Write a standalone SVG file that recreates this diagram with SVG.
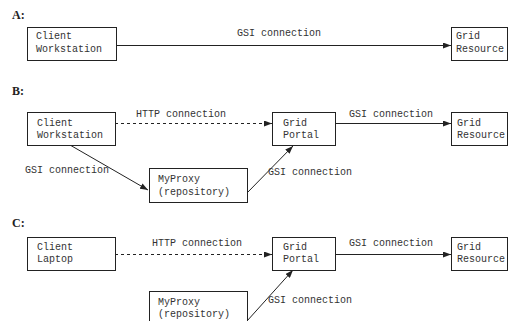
<svg xmlns="http://www.w3.org/2000/svg" width="523" height="321" viewBox="0 0 523 321">
<style>
.box{fill:#fff;stroke:#222;stroke-width:1}
.t{font-family:"Liberation Mono",monospace;font-size:10px;fill:#333}
.h{font-family:"Liberation Serif",serif;font-size:12px;font-weight:bold;fill:#222}
.ln{stroke:#222;stroke-width:1;fill:none}
.dash{stroke-dasharray:3,3}
</style>
<defs>
<marker id="ah" viewBox="0 0 8 6" refX="8" refY="3" markerWidth="8" markerHeight="6" markerUnits="userSpaceOnUse" orient="auto">
<path d="M0,0 L8,3 L0,6 Z" fill="#222"/>
</marker>
</defs>
<rect width="523" height="321" fill="#fff"/>
<text class="h" x="12" y="19">A:</text>
<text class="h" x="12" y="95">B:</text>
<text class="h" x="12" y="227">C:</text>

<g id="connectors">
<line class="ln" x1="117" y1="45.5" x2="451" y2="45.5" marker-end="url(#ah)"/>
<line class="ln dash" x1="115" y1="123.5" x2="272" y2="123.5" marker-end="url(#ah)"/>
<line class="ln" x1="335" y1="123.5" x2="451" y2="123.5" marker-end="url(#ah)"/>
<line class="ln" x1="70" y1="145" x2="148" y2="190" marker-end="url(#ah)"/>
<line class="ln" x1="247" y1="193" x2="293" y2="146" marker-end="url(#ah)"/>
<line class="ln dash" x1="115" y1="254.5" x2="272" y2="254.5" marker-end="url(#ah)"/>
<line class="ln" x1="335" y1="254.5" x2="451" y2="254.5" stroke-width="1.5" marker-end="url(#ah)"/>
<line class="ln" x1="247" y1="321" x2="293" y2="270" marker-end="url(#ah)"/>
<text class="t" x="237" y="36">GSI connection</text>
<text class="t" x="136" y="117">HTTP connection</text>
<text class="t" x="349" y="117">GSI connection</text>
<text class="t" x="25" y="173">GSI connection</text>
<text class="t" x="268" y="175">GSI connection</text>
<text class="t" x="152" y="246">HTTP connection</text>
<text class="t" x="349" y="246">GSI connection</text>
<text class="t" x="268" y="303">GSI connection</text>
</g>

<g id="a-client">
<rect class="box" x="27.5" y="27.5" width="89" height="33"/>
<text class="t" x="36" y="39">Client</text>
<text class="t" x="36" y="52">Workstation</text>
</g>
<g id="a-resource">
<rect class="box" x="451.5" y="27.5" width="56" height="33"/>
<text class="t" x="456" y="39">Grid</text>
<text class="t" x="456" y="52">Resource</text>
</g>

<g id="b-client">
<rect class="box" x="27.5" y="112.5" width="88" height="33"/>
<text class="t" x="37" y="126">Client</text>
<text class="t" x="37" y="138">Workstation</text>
</g>
<g id="b-portal">
<rect class="box" x="272.5" y="112.5" width="63" height="33"/>
<text class="t" x="283" y="126">Grid</text>
<text class="t" x="283" y="138">Portal</text>
</g>
<g id="b-resource">
<rect class="box" x="451.5" y="112.5" width="56" height="33"/>
<text class="t" x="457" y="126">Grid</text>
<text class="t" x="457" y="138">Resource</text>
</g>
<g id="b-myproxy">
<rect class="box" x="149.5" y="168.5" width="98" height="34"/>
<text class="t" x="158" y="182">MyProxy</text>
<text class="t" x="158" y="195">(repository)</text>
</g>

<g id="c-client">
<rect class="box" x="27.5" y="237.5" width="88" height="33"/>
<text class="t" x="37" y="250">Client</text>
<text class="t" x="37" y="262">Laptop</text>
</g>
<g id="c-portal">
<rect class="box" x="272.5" y="237.5" width="63" height="33"/>
<text class="t" x="283" y="250">Grid</text>
<text class="t" x="283" y="262">Portal</text>
</g>
<g id="c-resource">
<rect class="box" x="451.5" y="237.5" width="56" height="33"/>
<text class="t" x="457" y="250">Grid</text>
<text class="t" x="457" y="262">Resource</text>
</g>
<g id="c-myproxy">
<rect class="box" x="149.5" y="291.5" width="98" height="40"/>
<text class="t" x="158" y="305">MyProxy</text>
<text class="t" x="158" y="317">(repository)</text>
</g>
</svg>
